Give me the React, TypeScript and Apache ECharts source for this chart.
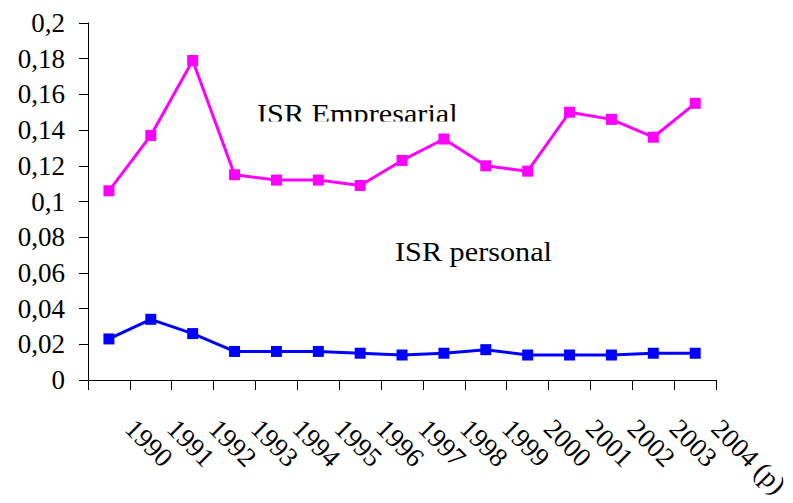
import React, { useEffect, useRef } from "react";
import * as echarts from "echarts";

const categories = ["1990", "1991", "1992", "1993", "1994", "1995", "1996", "1997", "1998", "1999", "2000", "2001", "2002", "2003", "2004 (p)"];
const isrEmpresarial = [0.106, 0.137, 0.179, 0.115, 0.112, 0.112, 0.109, 0.123, 0.135, 0.120, 0.117, 0.150, 0.146, 0.136, 0.155];
const isrPersonal = [0.023, 0.034, 0.026, 0.016, 0.016, 0.016, 0.015, 0.014, 0.015, 0.017, 0.014, 0.014, 0.014, 0.015, 0.015];
const yMin = 0;
const yMax = 0.2;
const yStep = 0.02;
const seriesNames = ["ISR Empresarial", "ISR personal"];

const FONT = '"Liberation Serif", "Times New Roman", serif';

export default function App() {
  const ref = useRef<HTMLDivElement>(null);

  useEffect(() => {
    if (!ref.current) return;
    const chart = echarts.init(ref.current, undefined, { renderer: "svg" });
    chart.setOption({
      animation: false,
      backgroundColor: "#ffffff",
      grid: { left: 88, right: 69, top: 23, bottom: 123, containLabel: false },
      xAxis: [
        {
          type: "category",
          data: categories,
          boundaryGap: true,
          axisLine: { show: true, lineStyle: { color: "#000", width: 1 } },
          axisTick: { show: true, interval: 0, length: 10, lineStyle: { color: "#000", width: 1 } },
          axisLabel: { show: false },
          splitLine: { show: false },
        },
        {
          type: "category",
          data: ["", ...categories],
          boundaryGap: false,
          position: "bottom",
          axisLine: { show: false },
          axisTick: { show: false },
          splitLine: { show: false },
          axisLabel: {
            show: true,
            interval: 0,
            rotate: -45,
            margin: 44,
            fontFamily: FONT,
            fontSize: 27,
            color: "#000",
          },
        },
      ],
      yAxis: {
        type: "value",
        min: yMin,
        max: yMax,
        interval: yStep,
        axisLine: { show: true, lineStyle: { color: "#000", width: 1 } },
        axisTick: { show: true, length: 9, lineStyle: { color: "#000", width: 1 } },
        splitLine: { show: false },
        axisLabel: {
          margin: 23,
          fontFamily: FONT,
          fontSize: 27,
          color: "#000",
          formatter: (v: number) => String(+v.toFixed(2)).replace(".", ","),
        },
      },
      series: [
        {
          name: seriesNames[0],
          type: "line",
          data: isrEmpresarial,
          symbol: "rect",
          symbolSize: 11,
          color: "#ff00ff",
          lineStyle: { color: "#ff00ff", width: 3 },
          itemStyle: { color: "#ff00ff" },
        },
        {
          name: seriesNames[1],
          type: "line",
          data: isrPersonal,
          symbol: "rect",
          symbolSize: 11,
          color: "#0000ff",
          lineStyle: { color: "#0000ff", width: 3 },
          itemStyle: { color: "#0000ff" },
        },
      ],
      graphic: [
        {
          type: "text",
          left: 257,
          top: 100,
          z: 10,
          scaleX: 1.12,
          style: { text: seriesNames[0], font: `27px ${FONT}`, fill: "#000" },
        },
        {
          type: "rect",
          z: 11,
          shape: { x: 250, y: 121.5, width: 220, height: 10 },
          style: { fill: "#ffffff" },
        },
        {
          type: "text",
          left: 395,
          top: 238.5,
          z: 10,
          scaleX: 1.12,
          style: { text: seriesNames[1], font: `27px ${FONT}`, fill: "#000" },
        },
      ],
    });
    return () => chart.dispose();
  }, []);

  return (
    <div
      ref={ref}
      style={{ position: "absolute", left: 0, top: 0, width: 793, height: 503, background: "#fff" }}
    />
  );
}
